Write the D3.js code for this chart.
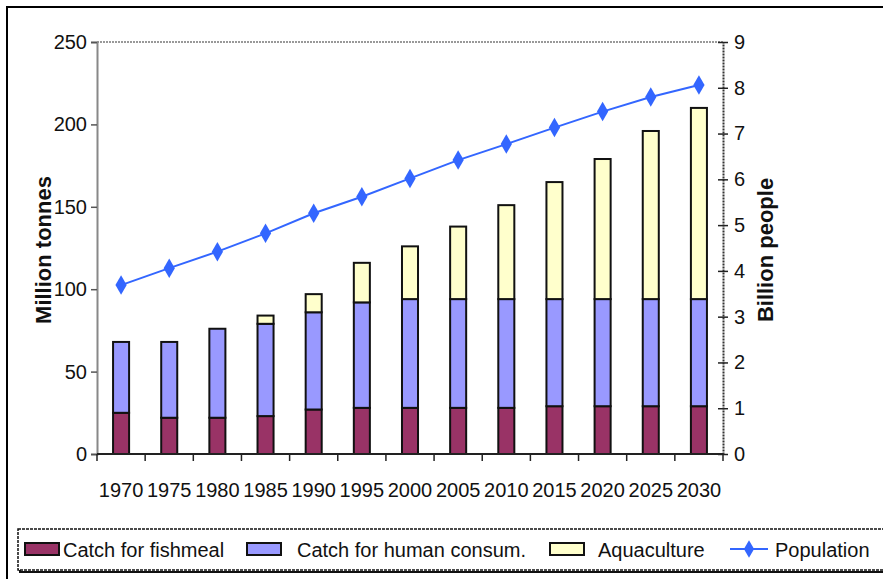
<!DOCTYPE html>
<html>
<head>
<meta charset="utf-8">
<script src="https://cdn.jsdelivr.net/npm/d3@7"></script>
<style>
  body { margin: 0; background: #fff; }
  svg text { font-family: "Liberation Sans", Arial, sans-serif; fill: #111; }
</style>
</head>
<body>
<div id="chart"></div>
<script>
const years = ['1970', '1975', '1980', '1985', '1990', '1995', '2000', '2005', '2010', '2015', '2020', '2025', '2030'];
// million tonnes
const fishmeal = [25, 22, 22, 23, 27, 28, 28, 28, 28, 29, 29, 29, 29];
const humanConsumption = [43, 46, 54, 56, 59, 64, 66, 66, 66, 65, 65, 65, 65];
const aquaculture = [0, 0, 0, 5, 11, 24, 32, 44, 57, 71, 85, 102, 116];
// billion people
const population = [3.69, 4.06, 4.42, 4.82, 5.26, 5.62, 6.02, 6.42, 6.77, 7.13, 7.48, 7.80, 8.06];
const leftTicks = [0, 50, 100, 150, 200, 250];
const rightTicks = [0, 1, 2, 3, 4, 5, 6, 7, 8, 9];

const seriesNames = ['Catch for fishmeal', 'Catch for human consum.', 'Aquaculture', 'Population'];
const colors = ['#993366', '#9999ff', '#ffffcc', '#3366ff'];

const width = 883, height = 579;
const plot = { left: 97, right: 723, top: 42, bottom: 454 };

const svg = d3.select('#chart').append('svg')
    .attr('width', width)
    .attr('height', height);

// outer frame (cut off right and bottom)
svg.append('rect')
    .attr('x', 7).attr('y', 7)
    .attr('width', 920).attr('height', 620)
    .attr('fill', 'none')
    .attr('stroke', '#000')
    .attr('stroke-width', 2);

const x = d3.scaleBand()
    .domain(years)
    .range([plot.left, plot.right])
    .paddingInner(0.667)
    .paddingOuter(0.3335);

const y = d3.scaleLinear().domain([0, 250]).range([plot.bottom, plot.top]);
const y2 = d3.scaleLinear().domain([0, 9]).range([plot.bottom, plot.top]);

// stacked data
const rows = years.map((yr, i) => ({
    year: yr,
    fishmeal: fishmeal[i],
    human: humanConsumption[i],
    aqua: aquaculture[i]
}));
const stacked = d3.stack().keys(['fishmeal', 'human', 'aqua'])(rows);

// top dotted border of plot area
svg.append('line')
    .attr('x1', plot.left).attr('x2', plot.right)
    .attr('y1', y(250)).attr('y2', y(250))
    .attr('stroke', '#999')
    .attr('stroke-width', 2)
    .attr('stroke-dasharray', '2,1');

// bars
stacked.forEach(function(layer, li) {
    svg.append('g')
        .selectAll('rect')
        .data(layer.filter(d => d[1] - d[0] > 0))
        .enter()
        .append('rect')
        .attr('x', d => x(d.data.year))
        .attr('y', d => y(d[1]))
        .attr('width', x.bandwidth())
        .attr('height', d => y(d[0]) - y(d[1]))
        .attr('fill', colors[li])
        .attr('stroke', '#111')
        .attr('stroke-width', 2);
});

// left axis
const leftAxis = svg.append('g')
    .attr('transform', 'translate(' + plot.left + ',0)')
    .call(d3.axisLeft(y).tickValues(leftTicks).tickSize(6).tickPadding(4));
leftAxis.select('.domain').attr('stroke', '#888').attr('stroke-width', 2);
leftAxis.selectAll('.tick line').attr('stroke', '#555').attr('stroke-width', 1.5);
leftAxis.selectAll('.tick text').attr('font-size', '20px').attr('fill', '#222');

// right axis (ticks cross the line)
const rightAxis = svg.append('g')
    .attr('transform', 'translate(' + plot.right + ',0)')
    .call(d3.axisRight(y2).tickValues(rightTicks).tickSizeInner(5).tickSizeOuter(0).tickPadding(6));
rightAxis.select('.domain').attr('stroke', '#333').attr('stroke-width', 2).attr('stroke-dasharray', '2,1');
rightAxis.selectAll('.tick line').attr('x1', -5).attr('stroke', '#222').attr('stroke-width', 1.5);
rightAxis.selectAll('.tick text').attr('font-size', '20px').attr('fill', '#222');

// bottom axis: ticks between categories
const bottom = svg.append('g');
bottom.append('line')
    .attr('x1', plot.left).attr('x2', plot.right)
    .attr('y1', plot.bottom).attr('y2', plot.bottom)
    .attr('stroke', '#222').attr('stroke-width', 2);
const boundaries = years.map(yr => x(yr) + x.bandwidth() / 2 - x.step() / 2)
    .concat([x(years[years.length - 1]) + x.bandwidth() / 2 + x.step() / 2]);
bottom.selectAll('.xtick')
    .data(boundaries)
    .enter()
    .append('line')
    .attr('x1', d => d).attr('x2', d => d)
    .attr('y1', plot.bottom).attr('y2', plot.bottom + 7)
    .attr('stroke', '#222').attr('stroke-width', 1.5);
bottom.selectAll('.xlabel')
    .data(years)
    .enter()
    .append('text')
    .attr('x', d => x(d) + x.bandwidth() / 2)
    .attr('y', 497)
    .attr('text-anchor', 'middle')
    .attr('font-size', '20px')
    .attr('fill', '#222')
    .text(d => d);

// population line
const line = d3.line()
    .x((d, i) => x(years[i]) + x.bandwidth() / 2)
    .y(d => y2(d));
svg.append('path')
    .datum(population)
    .attr('d', line)
    .attr('fill', 'none')
    .attr('stroke', colors[3])
    .attr('stroke-width', 2);
svg.selectAll('.marker')
    .data(population)
    .enter()
    .append('path')
    .attr('transform', (d, i) => 'translate(' + (x(years[i]) + x.bandwidth() / 2) + ',' + y2(d) + ')')
    .attr('d', d3.symbol().type(d3.symbolDiamond).size(110))
    .attr('fill', colors[3]);

// axis titles
svg.append('text')
    .attr('transform', 'translate(51,250) rotate(-90)')
    .attr('text-anchor', 'middle')
    .attr('font-size', '22px')
    .attr('font-weight', 'bold')
    .text('Million tonnes');
svg.append('text')
    .attr('transform', 'translate(773,250) rotate(-90)')
    .attr('text-anchor', 'middle')
    .attr('font-size', '22px')
    .attr('font-weight', 'bold')
    .text('Billion people');

// legend
const legend = svg.append('g');
legend.append('rect')
    .attr('x', 20).attr('y', 531)
    .attr('width', 900).attr('height', 41)
    .attr('fill', 'none').attr('stroke', '#111').attr('stroke-width', 2);
legend.append('rect')
    .attr('x', 18).attr('y', 529)
    .attr('width', 900).attr('height', 41)
    .attr('fill', '#fff').attr('stroke', '#111').attr('stroke-width', 1.5)
    .attr('stroke-dasharray', '3,1');
const legendItems = [
    { sw: 25, tx: 63 },
    { sw: 247, tx: 297 },
    { sw: 550, tx: 598 },
    { sw: 730, tx: 775 }
];
legendItems.forEach(function(item, i) {
    if (i < 3) {
        legend.append('rect')
            .attr('x', item.sw).attr('y', 543)
            .attr('width', 34).attr('height', 12)
            .attr('fill', colors[i])
            .attr('stroke', '#111').attr('stroke-width', 2);
    } else {
        legend.append('line')
            .attr('x1', item.sw).attr('x2', item.sw + 38)
            .attr('y1', 549).attr('y2', 549)
            .attr('stroke', colors[3]).attr('stroke-width', 2);
        legend.append('path')
            .attr('transform', 'translate(' + (item.sw + 19) + ',549)')
            .attr('d', d3.symbol().type(d3.symbolDiamond).size(90))
            .attr('fill', colors[3]);
    }
    legend.append('text')
        .attr('x', item.tx).attr('y', 557)
        .attr('font-size', '20px')
        .attr('fill', '#222')
        .text(seriesNames[i]);
});
</script>
</body>
</html>
